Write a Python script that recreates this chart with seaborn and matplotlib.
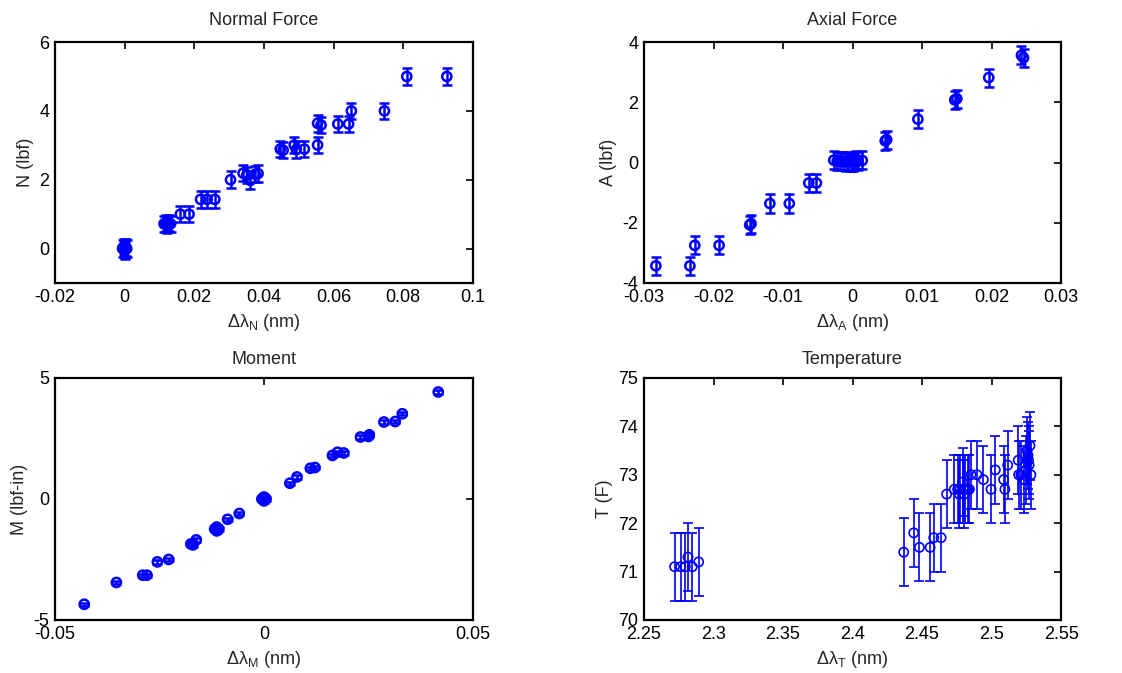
import matplotlib
matplotlib.use('Agg')
import matplotlib.pyplot as plt
import seaborn as sns
from matplotlib.ticker import FuncFormatter

# Normal force calibration points
normal_dl = [-0.0006, -0.0003, 0.0, 0.0003, 0.0006, 0.0, 0.0113, 0.0118, 0.0122, 0.0127, 0.0132,
             0.0160, 0.0185, 0.0218, 0.0237, 0.0259, 0.0304, 0.0340, 0.0351, 0.0361, 0.0375,
             0.0383, 0.0447, 0.0455, 0.0487, 0.0493, 0.0516, 0.0554, 0.0554, 0.0564, 0.0612,
             0.0643, 0.0651, 0.0746, 0.0810, 0.0925]
normal_f = [0.0, 0.05, -0.05, 0.03, 0.0, -0.03, 0.72, 0.75, 0.70, 0.74, 0.72,
            1.0, 1.0, 1.43, 1.43, 1.43, 2.0, 2.19, 2.14, 1.98, 2.16,
            2.18, 2.89, 2.86, 3.01, 2.88, 2.89, 3.01, 3.64, 3.59, 3.62,
            3.62, 4.0, 4.0, 5.0, 5.0]
normal_err = 0.24

# Axial force
axial_dl = [-0.0283, -0.0234, -0.0227, -0.0192, -0.0148, -0.0146, -0.0119, -0.0091, -0.0063,
            -0.0052, -0.0027, -0.0022, -0.0018, -0.0014, -0.0010, -0.0006, -0.0002, 0.0000,
            0.0002, 0.0005, 0.0008, 0.0014, 0.0047, 0.0049, 0.0094, 0.0147, 0.0150, 0.0196,
            0.0243, 0.0246]
axial_f = [-3.43, -3.43, -2.75, -2.75, -2.07, -2.03, -1.36, -1.36, -0.68,
           -0.68, 0.08, 0.05, 0.06, 0.04, 0.03, 0.05, 0.03, 0.02,
           0.06, 0.08, 0.05, 0.07, 0.72, 0.76, 1.44, 2.08, 2.12, 2.82,
           3.56, 3.48]
axial_err = 0.3

# Moment
moment_dl = [-0.0430, -0.0353, -0.0290, -0.0280, -0.0255, -0.0228, -0.0175, -0.0170, -0.0162,
             -0.0118, -0.0113, -0.0108, -0.0113, -0.0087, -0.0059, -0.0005, 0.0, 0.0005, 0.0,
             0.0003, 0.0062, 0.0079, 0.0111, 0.0122, 0.0164, 0.0176, 0.0191, 0.0231, 0.0250,
             0.0252, 0.0287, 0.0314, 0.0331, 0.0417]
moment_m = [-4.35, -3.45, -3.15, -3.15, -2.60, -2.50, -1.86, -1.90, -1.69,
            -1.24, -1.16, -1.24, -1.32, -0.84, -0.60, 0.0, 0.08, 0.0, -0.08,
            0.03, 0.65, 0.91, 1.27, 1.30, 1.80, 1.93, 1.90, 2.56, 2.58,
            2.65, 3.18, 3.20, 3.52, 4.42]
moment_err = 0.07

# Temperature
temp_dl = [2.2720, 2.2764, 2.2797, 2.2816, 2.2847, 2.2893, 2.4368, 2.4440, 2.4481, 2.4558,
           2.4584, 2.4637, 2.4677, 2.4732, 2.4756, 2.4768, 2.4773, 2.4792, 2.4797, 2.4804,
           2.4811, 2.4828, 2.4840, 2.4852, 2.4895, 2.4941, 2.4996, 2.5027, 2.5087, 2.5096,
           2.5116, 2.5192, 2.5195, 2.5211, 2.5235, 2.5247, 2.5255, 2.5262, 2.5266, 2.5270,
           2.5276, 2.5283]
temp_t = [71.1, 71.1, 71.1, 71.3, 71.1, 71.2, 71.4, 71.8, 71.5, 71.5,
          71.7, 71.7, 72.6, 72.7, 72.7, 72.6, 72.7, 72.85, 72.7, 72.6,
          72.7, 72.7, 72.7, 73.0, 73.0, 72.9, 72.7, 73.1, 72.9, 72.7,
          73.2, 73.3, 73.0, 73.0, 72.9, 73.1, 73.5, 73.4, 73.3, 73.2,
          73.6, 73.0]
temp_err = 0.7

sns.set_theme(style='white')
plt.rcParams['font.family'] = ['Liberation Sans', 'DejaVu Sans']
plt.rcParams['mathtext.default'] = 'regular'
plt.rcParams['font.size'] = 13
plt.rcParams['xtick.direction'] = 'in'
plt.rcParams['ytick.direction'] = 'in'

fig = plt.figure(figsize=(11.22, 6.73), dpi=100)
ax_n = fig.add_axes([0.049, 0.5795, 0.3725, 0.358])
ax_a = fig.add_axes([0.574, 0.5795, 0.3717, 0.358])
ax_m = fig.add_axes([0.049, 0.0788, 0.3725, 0.3596])
ax_t = fig.add_axes([0.574, 0.0788, 0.3717, 0.3596])

fmt = FuncFormatter(lambda v, _: '%g' % round(v, 6) if abs(v) > 1e-9 else '0')


def draw(ax, x, y, err, xlim, xticks, ylim, yticks, title, xlabel, ylabel, lw, tpad):
    ax.errorbar(x, y, yerr=err, fmt='none', ecolor='blue', elinewidth=lw,
                capsize=3.5, capthick=lw, zorder=2)
    sns.scatterplot(x=x, y=y, ax=ax, marker='o', s=44, facecolor='none',
                    edgecolor='blue', linewidth=lw, zorder=3)
    ax.set_xlim(xlim)
    ax.set_ylim(ylim)
    ax.set_xticks(xticks)
    ax.set_yticks(yticks)
    ax.xaxis.set_major_formatter(fmt)
    ax.yaxis.set_major_formatter(fmt)
    ax.tick_params(top=True, right=True, length=5, width=1.2, labelsize=13,
                   colors='black', pad=4)
    for sp in ax.spines.values():
        sp.set_color('black')
        sp.set_linewidth(1.6)
    ax.set_title(title, fontsize=13, pad=tpad)
    ax.set_xlabel(xlabel, fontsize=13, labelpad=5)
    ax.set_ylabel(ylabel, fontsize=13, labelpad=4)


draw(ax_n, normal_dl, normal_f, normal_err, (-0.02, 0.1),
     [-0.02, 0, 0.02, 0.04, 0.06, 0.08, 0.1], (-1, 6), [0, 2, 4, 6],
     'Normal Force', 'Δλ$_{N}$ (nm)', 'N (lbf)', 1.8, 12)
draw(ax_a, axial_dl, axial_f, axial_err, (-0.03, 0.03),
     [-0.03, -0.02, -0.01, 0, 0.01, 0.02, 0.03], (-4, 4), [-4, -2, 0, 2, 4],
     'Axial Force', 'Δλ$_{A}$ (nm)', 'A (lbf)', 1.8, 12)
draw(ax_m, moment_dl, moment_m, moment_err, (-0.05, 0.05),
     [-0.05, 0, 0.05], (-5, 5), [-5, 0, 5],
     'Moment', 'Δλ$_{M}$ (nm)', 'M (lbf-in)', 1.8, 10)
draw(ax_t, temp_dl, temp_t, temp_err, (2.25, 2.55),
     [2.25, 2.3, 2.35, 2.4, 2.45, 2.5, 2.55], (70, 75), [70, 71, 72, 73, 74, 75],
     'Temperature', 'Δλ$_{T}$ (nm)', 'T (F)', 1.2, 10)

fig.savefig('out.png', dpi=100)
